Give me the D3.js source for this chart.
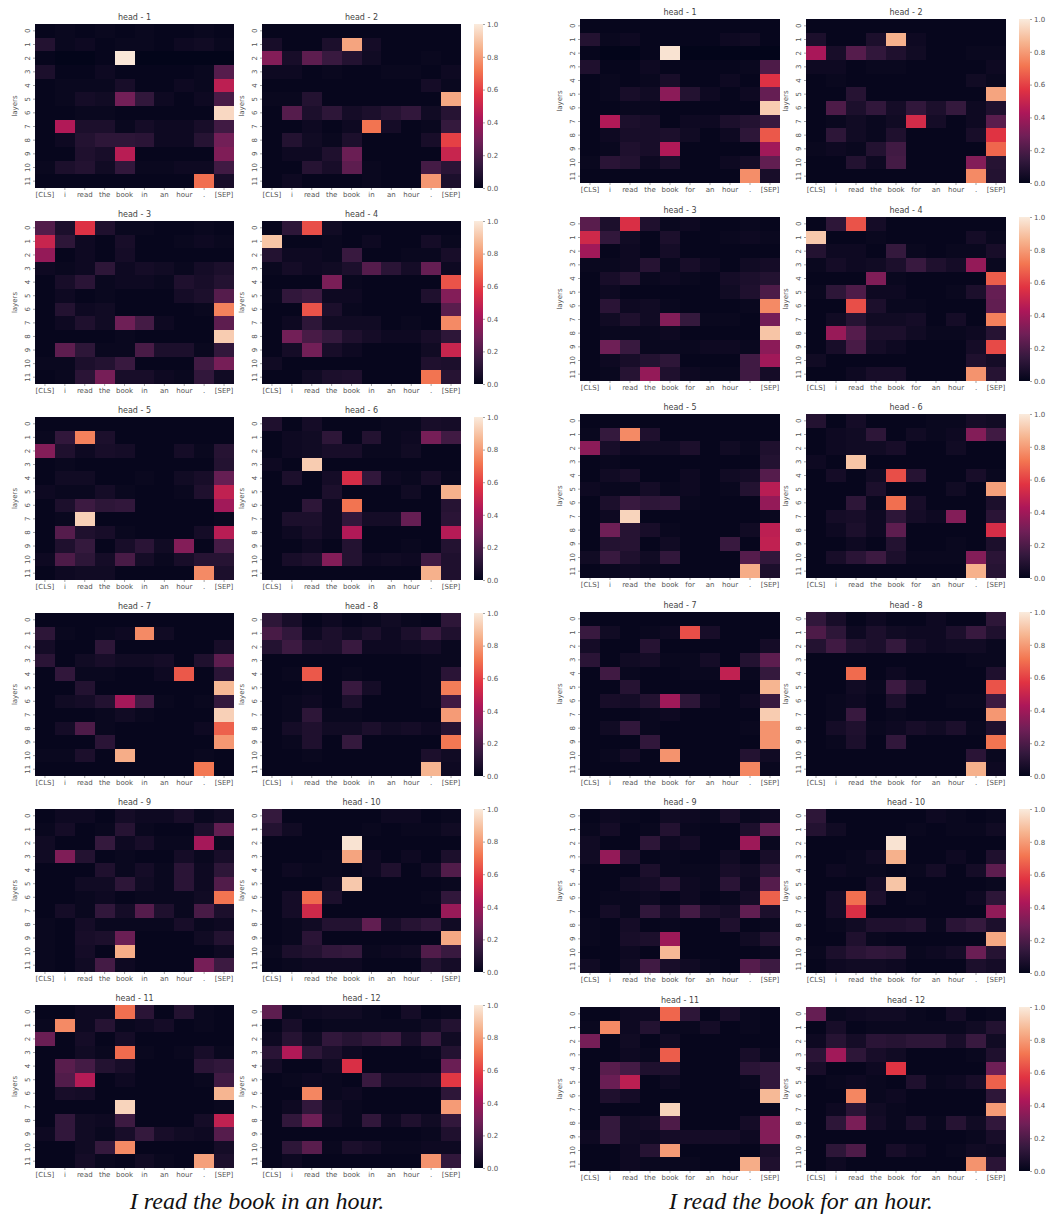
<!DOCTYPE html>
<html>
<head>
<meta charset="utf-8">
<script src="https://d3js.org/d3.v7.min.js"></script>
<style>
  html, body { margin: 0; padding: 0; background: #fff; }
  svg { display: block; }
  text { font-family: "DejaVu Sans", sans-serif; }
</style>
</head>
<body>
<svg id="chart" width="1049" height="1219"></svg>
<script>
// tick labels
const layers = ["0","1","2","3","4","5","6","7","8","9","10","11"];
const tokensIn = ["[CLS]","i","read","the","book","in","an","hour",".","[SEP]"];
const tokensFor = ["[CLS]","i","read","the","book","for","an","hour",".","[SEP]"];
const barTicks = [0, 0.2, 0.4, 0.6, 0.8, 1];

// attention values in hundredths: one row per layer
const inHead1 = [
[1,2,1,2,1,2,1,1,2,1],[9,2,3,1,2,2,1,3,4,2],[1,0,0,1,99,0,0,0,0,0],[7,1,1,3,1,1,1,1,2,22],
[1,2,2,2,6,1,1,3,2,47],[1,2,5,4,29,13,3,1,3,19],[1,1,2,2,1,1,1,1,1,95],[1,44,7,7,2,5,3,3,6,17],
[1,3,9,12,12,11,3,3,10,29],[1,1,8,6,46,1,1,1,1,32],[2,7,9,4,13,2,2,3,3,17],[1,1,1,1,1,1,1,1,70,6]];
const inHead2 = [
[1,1,1,1,1,1,1,1,1,1],[6,1,1,7,82,5,1,1,1,1],[33,6,24,15,9,4,1,1,2,1],[3,3,1,2,1,1,2,2,1,3],
[1,1,1,1,1,1,1,1,5,2],[2,2,9,1,1,1,1,1,1,83],[1,22,7,12,5,7,10,13,4,10],[1,1,3,1,3,71,5,1,2,14],
[1,9,4,2,7,1,1,1,6,60],[1,3,3,8,27,1,1,1,1,50],[1,1,10,6,24,2,1,1,18,11],[1,3,1,1,1,2,1,1,79,7]];
const inHead3 = [
[21,7,56,8,2,2,1,1,2,1],[50,12,3,1,6,1,1,2,3,2],[37,1,3,1,5,1,1,1,1,1],[3,2,3,12,3,5,4,2,5,7],
[1,6,11,2,3,3,2,8,6,9],[1,3,1,2,1,1,1,5,7,22],[1,9,3,4,1,1,1,1,2,74],[1,3,8,4,28,18,3,1,1,24],
[1,1,1,1,2,1,1,1,1,92],[1,24,12,2,2,19,7,7,2,13],[2,2,7,9,15,1,1,1,17,30],[1,2,11,30,6,6,3,2,13,4]];
const inHead4 = [
[1,12,63,4,1,1,1,1,1,1],[90,1,1,2,1,3,1,1,5,2],[9,3,3,2,15,1,1,2,2,6],[2,5,3,4,7,22,11,5,26,3],
[1,1,1,31,2,1,1,1,1,64],[2,13,16,3,3,1,1,1,8,33],[1,1,64,7,2,1,1,1,1,23],[1,3,12,4,4,4,1,2,1,76],
[1,29,19,14,8,5,3,3,6,12],[1,5,29,6,3,1,1,1,4,50],[4,1,1,1,1,1,1,1,8,7],[1,1,4,7,8,1,1,1,71,10]];
const inHead5 = [
[1,1,1,1,1,1,1,1,1,1],[2,13,74,7,1,1,1,1,1,1],[33,8,3,6,5,1,1,5,2,10],[1,2,1,1,1,1,1,1,1,9],
[1,4,4,1,1,2,1,4,6,26],[3,2,2,5,2,1,1,2,8,48],[1,7,16,12,13,1,1,1,1,40],[1,2,93,1,1,1,1,1,1,2],
[1,22,8,6,2,1,1,1,5,46],[1,8,14,1,6,11,4,33,1,18],[3,20,12,5,19,5,2,6,10,10],[1,3,4,4,1,1,1,1,76,7]];
const inHead6 = [
[8,1,5,1,1,1,2,2,6,5],[1,3,4,12,1,9,2,3,30,17],[1,3,4,6,6,2,2,4,1,1],[3,1,92,1,1,1,1,1,1,1],
[1,7,1,5,54,13,3,2,6,2],[1,1,1,7,1,1,1,4,1,85],[1,1,12,3,71,1,1,1,1,10],[1,7,7,3,13,5,5,26,1,11],
[1,3,6,3,44,1,1,1,1,45],[1,1,3,1,9,1,1,2,1,9],[1,6,8,33,9,3,4,3,17,8],[1,1,1,1,1,1,1,1,85,8]];
const inHead7 = [
[1,1,1,1,1,1,1,1,1,1],[12,2,1,2,3,76,4,1,1,1],[5,1,1,12,1,1,1,1,1,6],[11,1,4,6,4,4,5,1,8,24],
[1,13,2,2,1,1,3,65,1,11],[1,1,9,1,1,1,1,1,1,87],[1,4,5,9,41,17,2,1,2,14],[1,1,1,2,4,2,1,1,1,93],
[1,5,20,2,1,1,1,1,3,67],[1,1,1,11,1,1,1,1,1,79],[2,2,7,1,84,1,1,1,2,1],[1,1,1,1,1,1,1,1,72,1]];
const inHead8 = [
[12,6,1,3,1,2,4,2,1,12],[19,13,3,7,4,7,3,7,15,8],[9,16,8,7,15,3,3,4,5,2],[1,1,1,1,1,1,1,1,2,2],
[1,2,65,1,2,1,1,1,2,11],[1,1,2,1,15,5,1,1,2,73],[1,2,3,1,7,1,1,1,2,17],[1,2,12,2,2,1,1,1,1,80],
[1,5,8,4,4,7,4,5,3,10],[1,2,8,1,14,1,1,1,1,72],[1,1,2,1,1,1,1,1,7,4],[1,1,1,1,1,1,1,1,86,3]];
const inHead9 = [
[1,3,3,1,5,3,3,6,2,4],[2,5,1,2,10,2,1,1,7,25],[4,1,1,14,3,6,2,2,41,2],[4,32,9,1,2,1,1,5,2,6],
[1,1,1,8,2,5,2,11,3,12],[1,1,4,4,12,4,2,11,3,21],[1,1,2,3,1,2,2,2,4,71],[1,5,2,13,5,22,8,2,19,7],
[2,1,5,2,2,2,2,6,2,3],[2,1,6,7,27,1,1,1,4,9],[2,1,5,1,84,1,1,1,1,3],[2,1,4,18,3,1,1,1,30,16]];
const inHead10 = [
[14,1,1,1,1,1,3,3,1,2],[9,4,1,1,1,2,1,2,2,4],[1,1,1,1,98,1,1,1,1,1],[1,1,1,2,82,3,1,3,1,7],
[1,3,2,2,1,3,8,1,5,21],[1,1,1,4,91,1,1,1,1,2],[1,5,69,7,1,1,1,1,2,13],[1,5,52,1,1,1,1,1,1,38],
[1,2,4,9,9,25,6,10,13,4],[1,2,11,1,1,1,1,1,1,83],[2,7,9,13,14,2,3,4,21,15],[1,2,3,3,3,1,1,1,9,5]];
const inHead11 = [
[1,1,3,3,70,11,1,9,2,1],[2,76,3,10,2,3,5,1,2,1],[27,1,5,1,5,1,1,1,1,1],[1,1,4,2,69,2,1,2,6,2],
[1,23,18,9,6,1,1,1,11,13],[1,21,45,1,3,1,1,1,2,17],[1,6,5,1,1,1,1,1,1,86],[1,1,1,1,94,1,1,1,1,2],
[1,13,4,3,16,1,1,1,5,48],[3,13,4,2,6,14,6,4,3,22],[1,1,4,14,76,1,1,1,1,5],[1,1,5,2,1,4,2,1,81,7]];
const inHead12 = [
[24,2,3,4,4,2,1,5,1,2],[1,6,1,2,2,2,2,2,4,9],[3,10,4,13,10,13,16,6,15,4],[11,44,12,7,3,1,1,1,2,9],
[5,1,1,4,55,1,1,1,1,27],[1,2,3,2,1,15,5,5,6,58],[1,1,75,2,3,1,1,1,1,12],[1,3,13,4,2,1,1,1,1,80],
[1,13,28,5,2,13,3,8,4,13],[1,1,1,1,1,1,1,1,2,8],[1,12,23,2,7,5,2,2,3,3],[1,3,1,1,1,1,1,1,78,13]];

const forHead1 = [
[1,1,1,1,1,1,1,1,1,1],[9,2,3,1,1,1,1,3,4,1],[1,0,0,1,98,0,0,0,0,0],[8,1,1,3,1,1,1,1,2,20],
[1,2,1,2,6,1,1,3,1,56],[1,2,6,4,35,9,3,1,3,26],[1,1,2,2,1,1,1,1,1,92],[1,44,7,6,1,3,3,7,9,15],
[1,3,6,6,7,4,1,3,12,65],[1,2,8,6,44,1,1,1,1,40],[2,11,9,3,7,1,1,3,5,25],[1,1,1,1,1,1,1,1,77,6]];
const forHead2 = [
[1,1,1,1,1,1,1,1,1,1],[7,1,1,7,85,3,1,1,1,1],[42,6,22,13,8,4,1,1,2,2],[3,3,1,2,2,1,1,1,1,3],
[1,2,1,1,1,1,1,1,4,2],[1,1,10,1,1,1,1,1,1,82],[1,20,7,13,5,13,7,14,3,8],[1,2,4,2,4,53,5,1,3,23],
[1,12,4,2,8,1,1,1,6,57],[2,3,2,9,17,1,1,1,1,68],[1,1,9,3,18,1,1,1,33,10],[1,1,1,1,1,1,1,1,76,9]];
const forHead3 = [
[23,7,55,8,2,3,1,1,2,1],[52,13,4,1,7,1,1,2,3,2],[40,1,3,1,5,1,1,1,1,1],[2,2,3,10,2,6,3,1,4,5],
[1,6,10,2,3,2,1,5,7,9],[1,3,1,1,1,1,1,4,8,20],[1,11,3,4,2,1,1,1,2,76],[1,4,8,4,33,14,2,2,1,30],
[1,2,2,2,3,1,1,1,1,90],[1,28,15,2,2,2,3,3,2,35],[1,3,6,9,12,1,1,1,17,40],[1,2,10,37,8,3,2,2,17,5]];
const forHead4 = [
[1,12,64,5,1,1,1,1,1,1],[91,1,1,2,1,1,1,1,5,2],[9,3,3,1,14,2,1,2,2,6],[2,5,3,4,7,15,8,5,37,2],
[1,1,1,32,2,1,1,1,1,66],[2,12,20,3,3,1,1,2,7,26],[1,1,63,7,2,2,1,1,1,25],[1,4,10,4,4,5,1,5,1,74],
[1,38,22,7,7,4,2,2,3,10],[1,6,19,5,3,1,1,1,5,62],[4,1,1,1,1,1,1,1,8,5],[1,1,3,6,6,1,1,1,78,10]];
const forHead5 = [
[1,1,1,1,1,1,1,1,1,1],[2,14,76,8,1,1,1,1,1,1],[35,6,3,4,4,7,1,4,2,8],[1,2,1,1,1,1,1,1,1,9],
[1,4,6,1,1,3,1,4,5,22],[3,2,2,5,2,3,1,2,9,46],[1,7,15,12,13,2,1,1,1,37],[1,3,94,1,1,1,1,1,1,2],
[1,28,10,6,2,1,1,1,4,47],[1,9,10,1,4,1,1,15,1,48],[4,15,8,4,13,1,1,1,22,13],[1,2,3,2,1,1,1,1,84,7]];
const forHead6 = [
[9,1,5,1,1,1,2,2,5,4],[1,3,4,12,1,4,2,3,33,17],[1,3,4,4,6,1,1,4,1,1],[3,1,90,1,1,1,1,1,1,1],
[1,5,1,4,63,10,1,1,6,2],[1,1,1,7,1,1,1,4,1,81],[1,1,12,2,70,6,1,1,1,7],[1,5,6,3,12,5,3,33,1,11],
[1,3,7,3,24,1,1,1,1,54],[1,1,3,1,9,1,1,2,1,7],[1,6,11,16,7,2,2,2,33,11],[1,1,1,1,1,1,1,1,85,10]];
const forHead7 = [
[1,1,1,1,1,1,1,1,1,1],[15,4,1,2,3,63,6,1,1,1],[5,1,1,10,1,1,1,1,1,5],[11,1,4,5,2,2,5,1,9,24],
[1,17,2,1,1,2,2,48,2,14],[1,1,10,1,1,1,1,1,1,86],[1,6,5,9,40,12,3,1,3,15],[1,1,1,2,3,1,1,1,1,92],
[1,4,13,2,1,1,1,1,2,78],[1,1,1,13,1,1,1,1,1,78],[1,2,5,1,78,1,1,1,9,4],[1,1,1,1,1,1,1,1,75,2]];
const forHead8 = [
[13,6,1,3,1,1,3,1,1,12],[20,12,3,7,4,3,3,7,15,8],[9,17,9,7,14,5,3,4,4,2],[1,1,1,1,1,1,1,1,2,2],
[1,1,69,1,3,1,1,1,1,8],[1,1,4,2,16,7,1,1,1,64],[1,2,3,1,7,1,1,2,2,16],[1,2,15,1,2,1,1,1,1,79],
[1,5,8,2,3,6,4,7,2,8],[1,2,7,1,13,1,1,1,1,71],[1,1,1,1,1,1,1,1,11,2],[1,1,1,1,1,1,1,1,85,3]];
const forHead9 = [
[1,3,2,1,4,3,2,6,2,3],[2,5,1,2,9,2,1,1,7,26],[4,1,1,12,3,5,1,1,39,2],[4,37,8,1,2,1,1,4,1,6],
[1,1,1,7,2,2,2,6,4,11],[1,1,4,5,11,3,2,11,3,22],[1,2,2,3,1,3,1,2,5,67],[1,5,2,13,5,18,7,5,25,7],
[2,1,5,1,2,1,1,8,1,2],[2,1,6,7,39,1,1,1,4,9],[1,1,3,1,87,1,1,1,1,2],[4,1,4,17,6,4,2,1,22,16]];
const forHead10 = [
[12,1,1,1,1,1,3,2,1,2],[9,4,1,1,1,2,1,2,2,4],[1,1,1,1,98,1,1,1,1,1],[1,1,2,4,85,1,1,3,1,8],
[1,3,2,2,1,2,5,1,5,24],[1,1,1,5,90,1,1,1,1,2],[1,5,70,7,1,2,1,1,3,12],[1,5,55,1,1,1,1,1,1,36],
[1,2,4,8,8,9,2,11,14,7],[1,1,8,2,1,1,1,1,1,83],[2,7,11,13,12,2,3,5,27,10],[1,3,4,4,3,1,1,1,7,5]];
const forHead11 = [
[1,1,3,3,68,12,1,6,2,1],[2,76,3,9,2,2,5,1,2,1],[30,1,4,1,4,1,1,1,1,1],[1,1,3,2,66,1,1,1,6,2],
[1,23,18,8,8,1,1,1,11,13],[1,27,47,1,3,1,1,1,2,13],[1,8,5,1,1,1,1,1,1,87],[1,1,1,1,94,1,1,1,1,2],
[1,14,4,5,20,1,1,1,5,33],[3,14,4,3,5,5,5,5,3,33],[1,1,3,10,80,1,1,1,1,6],[1,1,3,2,2,2,1,1,84,8]];
const forHead12 = [
[26,2,3,4,4,2,1,5,1,2],[1,6,1,2,2,2,2,2,4,9],[3,10,5,11,10,12,12,6,15,4],[11,40,12,6,4,1,1,1,2,8],
[6,1,1,3,57,1,1,1,1,28],[1,2,3,2,1,8,2,3,6,67],[1,1,75,2,3,1,1,1,1,12],[1,3,11,4,2,1,1,1,1,80],
[1,12,31,5,2,7,2,10,4,13],[1,1,1,1,1,1,1,1,2,6],[1,12,20,1,6,3,1,2,4,3],[1,3,1,1,1,1,1,1,78,11]];

const inHeads = [inHead1,inHead2,inHead3,inHead4,inHead5,inHead6,inHead7,inHead8,inHead9,inHead10,inHead11,inHead12];
const forHeads = [forHead1,forHead2,forHead3,forHead4,forHead5,forHead6,forHead7,forHead8,forHead9,forHead10,forHead11,forHead12];

// seaborn rocket
const rocketStops = ["#03051a","#35193e","#701f57","#ad1759","#e13342","#f37651","#f6b48f","#faebdd"];
const color = d3.scaleLinear()
    .domain(rocketStops.map((d, i) => i / (rocketStops.length - 1)))
    .range(rocketStops);

const svg = d3.select("#chart");
const tickColor = "#555";

// gradient for the colour bars
const grad = svg.append("defs").append("linearGradient")
    .attr("id", "rocket")
    .attr("x1", 0).attr("x2", 0).attr("y1", 1).attr("y2", 0);
grad.selectAll("stop")
    .data(rocketStops)
    .join("stop")
    .attr("offset", (d, i) => i / (rocketStops.length - 1))
    .attr("stop-color", d => d);

function styleAxis(g) {
    g.select(".domain").remove();
    g.selectAll("line").attr("stroke", "#666").attr("stroke-width", 0.6);
    g.selectAll("text").attr("fill", tickColor).style("font-size", "7px");
}

function heatmap(data, tokens, title, left, top, right, bottom) {
    const x = d3.scaleBand().domain(tokens).range([left, right]);
    const y = d3.scaleBand().domain(layers).range([top, bottom]);
    const g = svg.append("g");

    // edges snapped to whole pixels so no white seams show between cells
    layers.forEach((layer, r) => {
        const y0 = Math.round(y(layer));
        const y1 = Math.round(y(layer) + y.bandwidth());
        g.selectAll(null)
            .data(data[r])
            .join("rect")
            .attr("x", (d, c) => Math.round(x(tokens[c])))
            .attr("y", y0)
            .attr("width", (d, c) => Math.round(x(tokens[c]) + x.bandwidth()) - Math.round(x(tokens[c])))
            .attr("height", y1 - y0)
            .attr("shape-rendering", "crispEdges")
            .attr("fill", d => color(d / 100));
    });

    g.append("g")
        .attr("transform", `translate(0,${bottom})`)
        .call(d3.axisBottom(x).tickSize(2).tickPadding(2))
        .call(styleAxis);

    g.append("g")
        .attr("transform", `translate(${left},0)`)
        .call(d3.axisLeft(y).tickSize(2).tickPadding(2))
        .call(styleAxis)
        .selectAll("text")
        .attr("text-anchor", "middle")
        .attr("transform", "translate(-7,0) rotate(-90)")
        .attr("x", 0).attr("y", 0).attr("dy", "0.32em");

    g.append("text")
        .attr("x", (left + right) / 2)
        .attr("y", top - 4)
        .attr("text-anchor", "middle")
        .attr("fill", "#444")
        .style("font-size", "8px")
        .text(title);

    g.append("text")
        .attr("transform", `translate(${left - 18},${(top + bottom) / 2}) rotate(-90)`)
        .attr("text-anchor", "middle")
        .attr("fill", tickColor)
        .style("font-size", "7px")
        .text("layers");
}

function colorbar(left, right, top, bottom) {
    const g = svg.append("g");
    const s = d3.scaleLinear().domain([0, 1]).range([bottom, top]);
    g.append("rect")
        .attr("x", left).attr("y", top)
        .attr("width", right - left).attr("height", bottom - top)
        .attr("fill", "url(#rocket)");
    g.append("g")
        .attr("transform", `translate(${right},0)`)
        .call(d3.axisRight(s).tickValues(barTicks).tickFormat(d3.format(".1f")).tickSize(2).tickPadding(2))
        .call(styleAxis);
}

function side(heads, tokens, cols, bar, rows, caption, captionX) {
    heads.forEach((data, i) => {
        const col = cols[i % 2];
        const row = rows[Math.floor(i / 2)];
        heatmap(data, tokens, "head - " + (i + 1), col[0], row[0], col[1], row[1]);
    });
    rows.forEach(row => colorbar(bar[0], bar[1], row[0], row[1]));
    svg.append("text")
        .attr("x", captionX)
        .attr("y", 1209)
        .attr("text-anchor", "middle")
        .attr("fill", "#111")
        .style("font-family", "'Liberation Serif', serif")
        .style("font-style", "italic")
        .style("font-size", "24px")
        .text(caption);
}

side(inHeads, tokensIn,
    [[35, 234], [262, 461]], [474, 483],
    [[24, 188], [221, 384], [417, 580], [613, 776], [809, 972], [1005, 1168]],
    "I read the book in an hour.", 257);

side(forHeads, tokensFor,
    [[580, 780], [806, 1006]], [1019, 1030],
    [[19, 183], [217, 381], [414, 578], [612, 776], [809, 973], [1007, 1171]],
    "I read the book for an hour.", 801);
</script>
</body>
</html>
